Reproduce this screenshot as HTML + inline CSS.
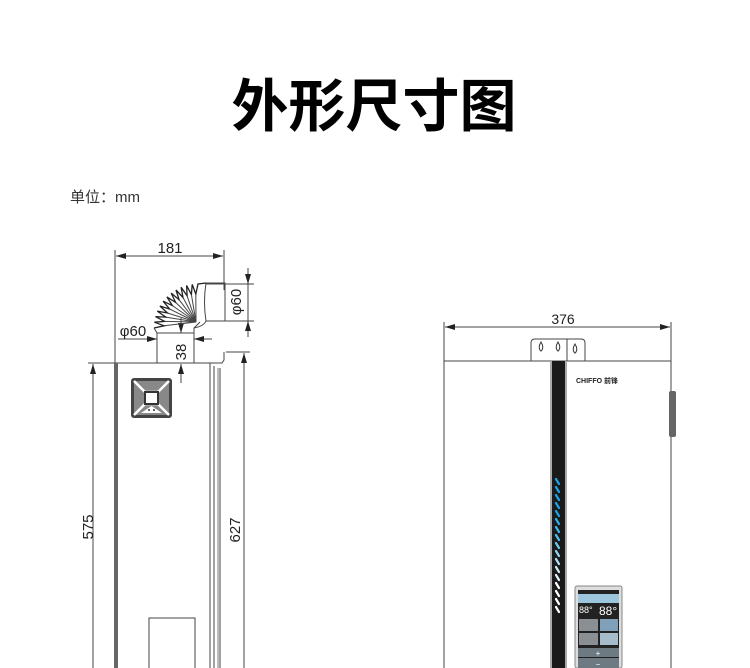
<!DOCTYPE html>
<html><head><meta charset="utf-8"><style>
html,body{margin:0;padding:0;background:#fff;}
svg{display:block;}
</style></head><body>
<svg width="750" height="668" viewBox="0 0 750 668" xmlns="http://www.w3.org/2000/svg" font-family="'Liberation Sans','Noto Sans CJK SC',sans-serif">
<defs>
<marker id="ar" markerWidth="10" markerHeight="6" refX="10" refY="3" orient="auto-start-reverse" markerUnits="userSpaceOnUse"><path d="M0,0 L10,3 L0,6 z" fill="#222"/></marker>
</defs>
<text x="374" y="126" text-anchor="middle" font-size="57" font-weight="bold" fill="#000" font-family="'Liberation Sans','Noto Sans CJK SC',sans-serif">外形尺寸图</text>
<text x="70" y="202" font-size="15" fill="#333">单位：mm</text>

<!-- LEFT VIEW -->
<g stroke="#444" fill="none" stroke-width="1">
<line x1="115" y1="250" x2="115" y2="363"/>
<line x1="224" y1="250" x2="224" y2="290"/>
<line x1="116" y1="256" x2="223" y2="256" marker-start="url(#ar)" marker-end="url(#ar)"/>
<line x1="206" y1="284" x2="254" y2="284"/>
<line x1="206" y1="321" x2="254" y2="321"/>
<line x1="248" y1="268" x2="248" y2="284" marker-end="url(#ar)"/>
<line x1="248" y1="337" x2="248" y2="321" marker-end="url(#ar)"/>
<line x1="248" y1="284" x2="248" y2="321"/>
<line x1="118" y1="339" x2="157" y2="339" marker-end="url(#ar)"/>
<line x1="212" y1="339" x2="194" y2="339" marker-end="url(#ar)"/>
<line x1="181" y1="318" x2="181" y2="333" marker-end="url(#ar)"/>
<line x1="181" y1="383" x2="181" y2="364" marker-end="url(#ar)"/>
<rect x="157" y="333" width="37" height="30"/>
<path d="M206,283 L225,283 L225,321 L206,321 Q203,302 206,283 z"/>
<path d="M194,333 L194,328 Q204,326 206,321"/>
<polyline stroke="#222" stroke-width="1.3" points="154,328 164.1,325.8 154.4,322.2 164.6,321.4 155.5,316.6 165.8,317.1 157.3,311.1 167.5,313 159.9,306 169.7,309.1 163.1,301.2 172.4,305.6 166.9,296.9 175.6,302.4 171.2,293.1 179.1,299.7 176,290 183,297.5 181.1,287.3 187.1,295.8 186.6,285.5 191.4,294.6 192.2,284.4 195.8,294.1 198,284 206,283"/>
<g stroke="#444" stroke-width="1">
<line x1="164.1" y1="325.8" x2="196" y2="322"/><line x1="164.6" y1="321.4" x2="196" y2="322"/><line x1="165.8" y1="317.1" x2="196" y2="322"/><line x1="167.5" y1="313" x2="196" y2="322"/><line x1="169.7" y1="309.1" x2="196" y2="322"/><line x1="172.4" y1="305.6" x2="196" y2="322"/><line x1="175.6" y1="302.4" x2="196" y2="322"/><line x1="179.1" y1="299.7" x2="196" y2="322"/><line x1="183" y1="297.5" x2="196" y2="322"/><line x1="187.1" y1="295.8" x2="196" y2="322"/><line x1="191.4" y1="294.6" x2="196" y2="322"/><line x1="195.8" y1="294.1" x2="196" y2="322"/>
</g>
<path d="M154,328 L157,333 M194,328 L200,322"/>
<line x1="88" y1="363" x2="115" y2="363"/>
<line x1="93" y1="668" x2="93" y2="364" marker-end="url(#ar)"/>
<line x1="226" y1="352" x2="250" y2="352"/>
<line x1="244" y1="668" x2="244" y2="353" marker-end="url(#ar)"/>
<line x1="115" y1="363" x2="210" y2="363"/>
<line x1="210" y1="363" x2="210" y2="668"/>
<line x1="214" y1="366" x2="214" y2="668"/>
<path d="M210,363 L222,363 L224,360 L224,352 M220,368 L220,668"/>
<line x1="218" y1="368" x2="218" y2="668" stroke="#777"/>
<rect x="149" y="618" width="46" height="52"/>
</g>
<rect x="114" y="363" width="4" height="305" fill="#666"/>
<g>
<rect x="131" y="378" width="41" height="40" rx="3" fill="#444"/>
<path d="M134,381 L169,381 L169,415 L134,415 z" fill="#888"/>
<path d="M134,381 L145,392 L158,392 L169,381 M134,415 L145,404 L158,404 L169,415" stroke="#fff" stroke-width="2.5" fill="none"/>
<rect x="145" y="392" width="13" height="12" fill="#fff" stroke="#333" stroke-width="2"/>
<polygon points="141,413 151.5,406 162,413" fill="#fff"/>
<circle cx="149" cy="410" r="1" fill="#333"/><circle cx="154" cy="410" r="1" fill="#333"/>
</g>
<g font-size="15" fill="#222">
<text x="170" y="253" text-anchor="middle">181</text>
<text x="133" y="336" text-anchor="middle">φ60</text>
<text transform="translate(241,302) rotate(-90)" text-anchor="middle">φ60</text>
<text transform="translate(186,352) rotate(-90)" text-anchor="middle">38</text>
<text transform="translate(93,527) rotate(-90)" text-anchor="middle">575</text>
<text transform="translate(240,530) rotate(-90)" text-anchor="middle">627</text>
</g>

<!-- RIGHT VIEW -->
<g stroke="#444" fill="none" stroke-width="1">
<line x1="444" y1="322" x2="444" y2="668"/>
<line x1="671" y1="322" x2="671" y2="668"/>
<line x1="445" y1="327" x2="670" y2="327" marker-start="url(#ar)" marker-end="url(#ar)"/>
<line x1="444" y1="361" x2="671" y2="361"/>
<path d="M531,361 L531,343 Q531,339 535,339 L581,339 Q585,339 585,343 L585,361"/>
<line x1="567" y1="339" x2="567" y2="361"/>
</g>
<g stroke="#333" fill="none" stroke-width="1">
<path d="M540,350 Q538,347 541,342 Q544,347 542,350 Q541,352 540,350z"/>
<path d="M557,350 Q555,347 558,342 Q561,347 559,350 Q558,352 557,350z"/>
<path d="M574,352 Q572,349 575,344 Q578,349 576,352 Q575,354 574,352z"/>
</g>
<rect x="550" y="361" width="17" height="307" fill="#aaa"/>
<rect x="552" y="361" width="13" height="307" fill="#1a1a1a"/>
<rect x="669" y="391" width="7" height="46" rx="2" fill="#666"/>
<text x="576" y="383" font-size="7" font-weight="bold" fill="#222">CHIFFO 前锋</text>
<g stroke-width="2.2" stroke-linecap="round">
<line x1="556" y1="479" x2="559" y2="484" stroke="#1aa3e8"/>
<line x1="556" y1="487" x2="559" y2="492" stroke="#1aa3e8"/>
<line x1="556" y1="495" x2="559" y2="500" stroke="#1aa3e8"/>
<line x1="556" y1="503" x2="559" y2="508" stroke="#1aa3e8"/>
<line x1="556" y1="511" x2="559" y2="516" stroke="#1aa3e8"/>
<line x1="556" y1="519" x2="559" y2="524" stroke="#2ab0ea"/>
<line x1="556" y1="527" x2="559" y2="532" stroke="#3ab8ee"/>
<line x1="556" y1="535" x2="559" y2="540" stroke="#4cc0ee"/>
<line x1="556" y1="543" x2="559" y2="548" stroke="#6cc9ef"/>
<line x1="556" y1="551" x2="559" y2="556" stroke="#8fd6f2"/>
<line x1="556" y1="559" x2="559" y2="564" stroke="#b0e2f5"/>
<line x1="556" y1="567" x2="559" y2="572" stroke="#cfeef8"/>
<line x1="556" y1="575" x2="559" y2="580" stroke="#e6f6fb"/>
<line x1="556" y1="583" x2="559" y2="588" stroke="#fff"/>
<line x1="556" y1="591" x2="559" y2="596" stroke="#fff"/>
<line x1="556" y1="599" x2="559" y2="604" stroke="#fff"/>
<line x1="556" y1="607" x2="559" y2="612" stroke="#fff"/>
</g>
<rect x="575" y="586" width="47" height="82" rx="2" fill="#ddd" stroke="#888"/>
<rect x="578" y="590" width="41" height="78" fill="#222"/>
<rect x="578" y="594" width="41" height="9" fill="#9cc6dc"/>
<text x="579" y="613" font-size="9" fill="#fff">88°</text>
<text x="599" y="615" font-size="12" fill="#fff">88°</text>
<rect x="579" y="619" width="19" height="12" fill="#8a8f94"/>
<rect x="600" y="619" width="18" height="12" fill="#7fa0b8"/>
<rect x="579" y="633" width="19" height="12" fill="#8a8f94"/>
<rect x="600" y="633" width="18" height="12" fill="#a7bccb"/>
<rect x="578" y="648" width="41" height="9" fill="#6e7a82"/>
<rect x="578" y="658" width="41" height="10" fill="#6e7a82"/>
<text x="598" y="656" font-size="8" fill="#fff" text-anchor="middle">+</text>
<text x="598" y="667" font-size="8" fill="#fff" text-anchor="middle">−</text>
<text x="563" y="324" font-size="14" fill="#222" text-anchor="middle">376</text>
</svg>
</body></html>
